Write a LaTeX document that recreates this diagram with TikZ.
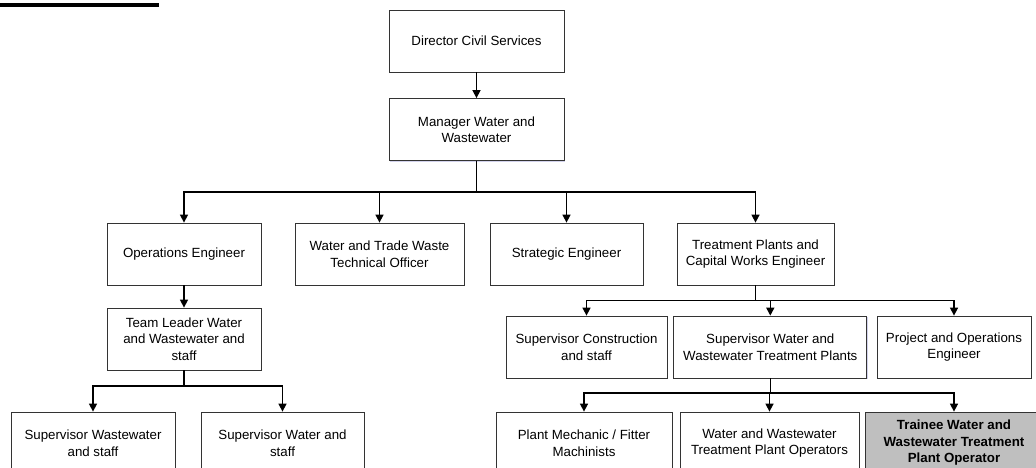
\documentclass[tikz,border=0pt]{standalone}
\usepackage{fontspec}
\setmainfont{Liberation Sans}
\usetikzlibrary{
  arrows.meta,
  positioning,
  shadows
}

\begin{document}
\begin{tikzpicture}[
        x=1pt, y=-1pt,
        >={Triangle[width=8pt,length=8pt]},
        every node/.style={font=\fontsize{13.3}{16.5}\selectfont, align=center},
        unit/.style={draw=black!80, fill=white, line width=0.8pt,
            minimum height=62pt, inner sep=2pt,
            drop shadow={shadow xshift=1.2pt, shadow yshift=-1.2pt,
                fill=blue!40!gray, opacity=0.25}},
        trainee/.style={unit, fill=black!25,
            font=\fontsize{13.3}{16.5}\selectfont\bfseries},
        link/.style={->, line width=1.5pt}
    ]
        \useasboundingbox (0,0) rectangle (1036,467);
        % Titelbalk
        \fill (0,3) rectangle (159,6.5);
        % Top
        \node[unit, minimum width=175pt] (director) at (476.5,41) {Director Civil Services};
        \node[unit, minimum width=175pt] (manager) at (476.5,129.5) {Manager Water and\\Wastewater};
        % Eerste niveau
        \node[unit, minimum width=154pt] (ops) at (184,254) {Operations Engineer};
        \node[unit, minimum width=169pt] (wtw) at (379.5,254) {Water and Trade Waste\\Technical Officer};
        \node[unit, minimum width=153pt] (strat) at (566.5,254) {Strategic Engineer};
        \node[unit, minimum width=157pt] (tpc) at (755.5,254) {Treatment Plants and\\Capital Works Engineer};
        % Tak operations
        \node[unit, minimum width=154pt] (team) at (184,339) {Team Leader Water\\and Wastewater and\\staff};
        \node[unit, minimum width=164pt] (supww) at (93,443) {Supervisor Wastewater\\and staff};
        \node[unit, minimum width=163pt] (supw) at (282.5,443) {Supervisor Water and\\staff};
        % Tak treatment plants
        \node[unit, minimum width=161pt] (supc) at (586.5,347) {Supervisor Construction\\and staff};
        \node[unit, minimum width=193pt] (swwtp) at (770.3,347) {Supervisor Water and\\Wastewater Treatment Plants};
        \node[unit, minimum width=154pt] (proj) at (954,347) {Project and Operations\\Engineer};
        \node[unit, minimum width=176pt] (mech) at (584,443) {Plant Mechanic / Fitter\\Machinists};
        \node[unit, minimum width=179pt] (wwtpo) at (769.5,443) {Water and Wastewater\\Treatment Plant Operators};
        \node[trainee, minimum width=178pt] (trainee) at (954,443) {Trainee Water and\\Wastewater Treatment\\Plant Operator};
        % Verbindingen
        \draw[link] (director) -- (manager);
        \foreach \n in {ops, wtw, strat, tpc}
            \draw[link] (manager.south) -- ++(0,31) -| (\n);
        \draw[link] (ops) -- (team);
        \foreach \n in {supww, supw}
            \draw[link] (team.south) -- ++(0,15.7) -| (\n);
        \foreach \n in {supc, swwtp, proj}
            \draw[link] (tpc.south) -- ++(0,15) -| (\n);
        \foreach \n in {mech, wwtpo, trainee}
            \draw[link] (swwtp.south) -- ++(0,14.7) -| (\n);
    \end{tikzpicture}
\end{document}
